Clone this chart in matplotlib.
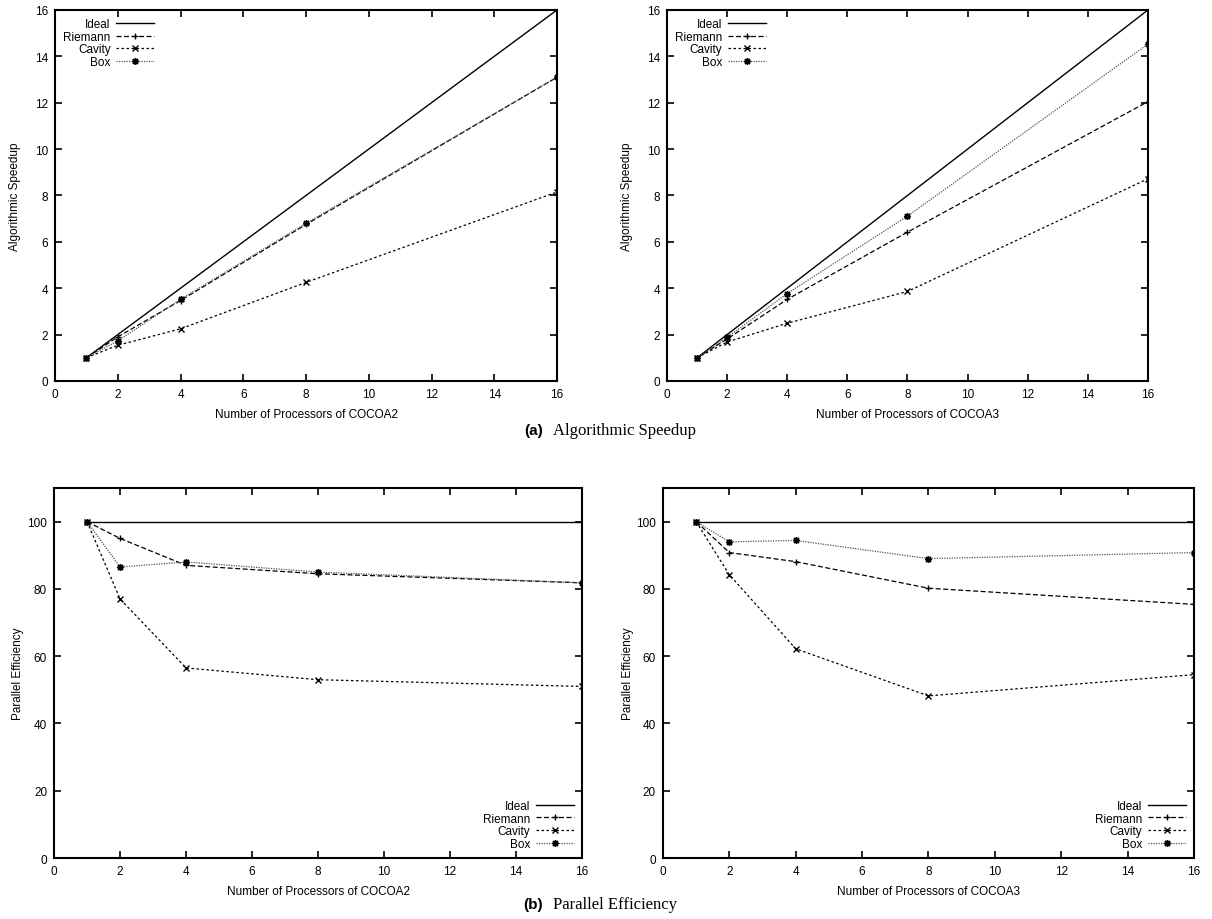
import numpy as np
import matplotlib
matplotlib.use("Agg")
import matplotlib.pyplot as plt

plt.rcParams['font.family'] = ['Liberation Sans', 'DejaVu Sans']

# numero de procesadores
procs = [1, 2, 4, 8, 16]
series = ['Ideal', 'Riemann', 'Cavity', 'Box']

# speedup (a)
speedup_c2 = {
    'Ideal': [1, 2, 4, 8, 16],
    'Riemann': [1, 1.90, 3.47, 6.75, 13.1],
    'Cavity': [1, 1.54, 2.25, 4.25, 8.15],
    'Box': [1, 1.73, 3.52, 6.80, 13.1],
}
speedup_c3 = {
    'Ideal': [1, 2, 4, 8, 16],
    'Riemann': [1, 1.81, 3.52, 6.42, 12.05],
    'Cavity': [1, 1.68, 2.49, 3.86, 8.72],
    'Box': [1, 1.88, 3.77, 7.11, 14.53],
}
# eficiencia paralela (b)
eff_c2 = {
    'Ideal': [100, 100, 100, 100, 100],
    'Riemann': [100, 95.0, 87.0, 84.5, 81.8],
    'Cavity': [100, 77.0, 56.5, 53.0, 51.0],
    'Box': [100, 86.5, 88.0, 85.0, 81.8],
}
eff_c3 = {
    'Ideal': [100, 100, 100, 100, 100],
    'Riemann': [100, 90.8, 88.1, 80.2, 75.4],
    'Cavity': [100, 84.2, 62.2, 48.2, 54.5],
    'Box': [100, 94.0, 94.4, 89.0, 90.8],
}

# estilos tipo gnuplot
estilos = {
    'Ideal': dict(color='black', ls='-', lw=1.0, marker=None),
    'Riemann': dict(color='black', ls=(0, (4, 2)), lw=0.9, marker='+', ms=5),
    'Cavity': dict(color='black', ls=(0, (2, 2)), lw=0.9, marker='x', ms=4),
    'Box': dict(color='#555555', ls=(0, (1, 1)), lw=0.9, marker=(8, 2, 0), ms=5,
                mec='black'),
}


def dibujar(ax, datos, ylim, yticks, xlabel, ylabel, legend_loc, ancho_px, sep_px):
    for s in series:
        ax.plot(procs, datos[s], label=s, **estilos[s])
    ax.set_xlim(0, 16)
    ax.set_ylim(*ylim)
    ax.set_xticks(range(0, 17, 2))
    ax.set_yticks(yticks)
    ax.tick_params(direction='in', top=True, right=True, length=5, width=1.2,
                   labelsize=8.5, pad=5)
    for sp in ax.spines.values():
        sp.set_linewidth(1.5)
    ax.set_xlabel(xlabel, fontsize=8.5, labelpad=6)
    ax.set_ylabel(ylabel, fontsize=8.5)
    # separacion de la etiqueta respecto al eje, en pixeles
    ax.yaxis.set_label_coords(-sep_px / ancho_px, 0.5)
    ax.legend(loc=legend_loc, frameon=False, markerfirst=False, fontsize=8.5,
              handlelength=3.2, handletextpad=0.5, labelspacing=0.05,
              borderaxespad=0.3)


fig = plt.figure(figsize=(12.12, 9.2), dpi=100)
ax1 = fig.add_axes([0.0454, 0.5848, 0.4142, 0.4033])
ax2 = fig.add_axes([0.5503, 0.5848, 0.3969, 0.4033])
ax3 = fig.add_axes([0.0446, 0.0663, 0.4356, 0.4022])
ax4 = fig.add_axes([0.5470, 0.0663, 0.4381, 0.4022])

dibujar(ax1, speedup_c2, (0, 16), range(0, 17, 2),
        'Number of Processors of COCOA2', 'Algorithmic Speedup', 'upper left',
        502, 34)
dibujar(ax2, speedup_c3, (0, 16), range(0, 17, 2),
        'Number of Processors of COCOA3', 'Algorithmic Speedup', 'upper left',
        481, 34)
dibujar(ax3, eff_c2, (0, 110), range(0, 101, 20),
        'Number of Processors of COCOA2', 'Parallel Efficiency', 'lower right',
        528, 30)
dibujar(ax4, eff_c3, (0, 110), range(0, 101, 20),
        'Number of Processors of COCOA3', 'Parallel Efficiency', 'lower right',
        531, 29)

# titulos de las subfiguras
fig.text(0.448, 0.532, '(a)', ha='right', va='center', fontsize=11,
         fontweight='bold')
fig.text(0.456, 0.532, 'Algorithmic Speedup', ha='left', va='center',
         fontsize=12, family=['Liberation Serif', 'DejaVu Serif'])
fig.text(0.448, 0.016, '(b)', ha='right', va='center', fontsize=11,
         fontweight='bold')
fig.text(0.456, 0.016, 'Parallel Efficiency', ha='left', va='center',
         fontsize=12, family=['Liberation Serif', 'DejaVu Serif'])

fig.savefig('out.png', dpi=100)
